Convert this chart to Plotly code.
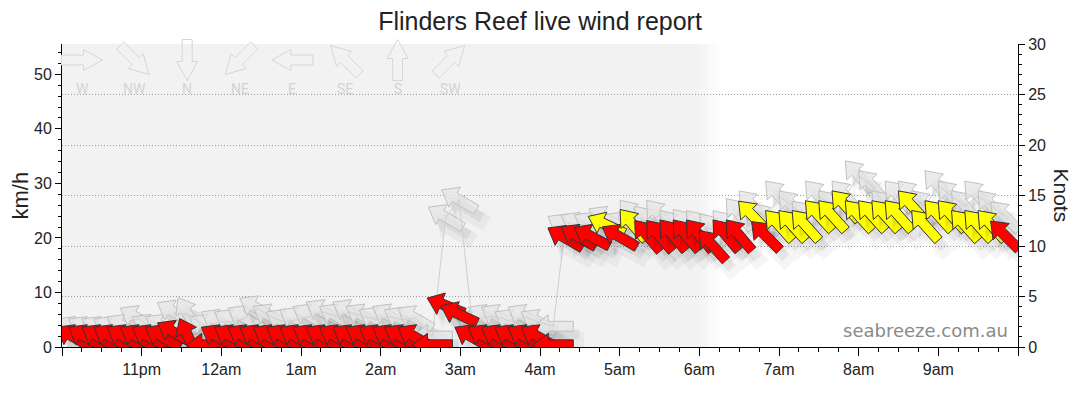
import numpy as np
import plotly.graph_objects as go
from datetime import datetime, timedelta

# ---------------- data ----------------
times = [
    "22:09", "22:18", "22:28", "22:37", "22:47", "22:57", "23:06", "23:16", "23:25", "23:35", "23:49",
    "23:58", "00:08", "00:18", "00:27", "00:37", "00:47", "00:57", "01:07", "01:17", "01:27", "01:37",
    "01:47", "01:57", "02:07", "02:16", "02:26",
    "02:39", "02:49", "02:59",
    "03:09", "03:19", "03:29", "03:39", "03:49", "03:59", "04:10",
    "04:19", "04:29", "04:39", "04:50", "05:00", "05:10", "05:21", "05:30", "05:40", "05:50", "06:00",
    "06:10", "06:20", "06:30", "06:40", "06:50",
    "07:00", "07:10", "07:20", "07:30", "07:40", "07:50", "08:00", "08:10", "08:20", "08:30", "08:40",
    "08:50", "09:00", "09:10", "09:20", "09:30", "09:40", "09:50",
]

speed_kmh = [
    1.8, 1.8, 1.8, 1.8, 1.8, 1.8, 1.8, 1.8, 2.6, 1.9, 0.4,
    1.8, 1.8, 1.8, 1.8, 1.8, 1.8, 1.8, 1.8, 1.8, 1.8, 1.8,
    1.8, 1.8, 1.8, 1.8, 1.8,
    0.4, 7.6, 6.0,
    1.8, 1.8, 1.8, 1.8, 1.8, 1.8, 0.4,
    20.0, 20.2, 20.2, 22.4, 20.2, 22.4, 20.4, 20.4, 20.5, 20.5, 20.5,
    18.6, 20.5, 20.5, 24.1, 20.4,
    22.3, 22.3, 22.3, 24.1, 24.1, 25.9, 24.1, 24.1, 24.1, 24.1, 25.9,
    22.3, 24.1, 24.1, 22.3, 22.3, 22.3, 20.5,
]

direction_deg = [
    120, 120, 120, 120, 120, 120, 120, 120, 120, 155, 90,
    120, 120, 120, 120, 120, 120, 120, 120, 120, 120, 120,
    120, 120, 120, 120, 120,
    90, 112, 115,
    120, 120, 120, 120, 120, 120, 90,
    120, 120, 118, 115, 120, 140, 140, 140, 140, 140, 140,
    138, 140, 140, 136, 135,
    138, 138, 138, 138, 138, 138, 138, 138, 138, 138, 138,
    138, 138, 138, 138, 138, 138, 135,
]

gust_kmh = [
    3.3, 3.3, 3.3, 3.3, 3.7, 5.3, 3.7, 3.7, 6.3, 5.9, 3.7,
    4.6, 4.6, 5.3, 7.1, 5.6, 4.6, 5.0, 5.6, 6.4, 5.6, 6.4,
    5.6, 5.0, 5.6, 5.0, 5.3,
    2.0, 23.8, 27.0,
    4.4, 5.5, 5.5, 4.6, 5.5, 4.6, 3.8,
    22.1, 22.4, 22.4, 23.5, 22.4, 24.1, 23.0, 24.1, 22.2, 22.4, 22.2,
    21.6, 22.2, 24.4, 25.9, 23.5,
    27.7, 25.9, 24.0, 27.7, 25.9, 27.7, 31.4, 29.6, 25.9, 27.7, 27.7,
    25.9, 29.6, 27.7, 25.9, 27.7, 25.9, 24.0,
]

gust_dir_deg = [
    120, 120, 120, 120, 120, 120, 120, 120, 120, 150, 120,
    120, 120, 120, 120, 120, 120, 120, 120, 120, 120, 120,
    120, 120, 120, 120, 120,
    90, 120, 120,
    120, 120, 120, 120, 120, 120, 90,
    120, 120, 120, 120, 120, 140, 140, 140, 140, 140, 140,
    140, 140, 140, 138, 138,
    138, 138, 138, 138, 138, 138, 138, 138, 138, 138, 138,
    138, 138, 138, 138, 138, 138, 135,
]

legend_labels = ["W", "NW", "N", "NE", "E", "SE", "S", "SW"]
legend_dirs = [270, 315, 0, 45, 90, 135, 180, 225]

hour_ticks = ["22:00", "23:00", "00:00", "01:00", "02:00", "03:00", "04:00", "05:00",
              "06:00", "07:00", "08:00", "09:00", "10:00"]
hour_labels = ["", "11pm", "12am", "1am", "2am", "3am", "4am", "5am",
               "6am", "7am", "8am", "9am", ""]

KMH_PER_KNOT = 1.852
KNOTS_MAX = 30
YELLOW_FROM_KMH = 21.5   # ~12 knots
NIGHT_END = "06:00"

# figure geometry (page body has an 8px margin)
FIG_W, FIG_H = 1064, 398
M_L, M_R, M_T, M_B = 54, 54, 36, 59
PLOT_W = FIG_W - M_L - M_R
PLOT_H = FIG_H - M_T - M_B


def to_dt(s):
    h, m = map(int, s.split(":"))
    day = 1 if h >= 12 else 2
    return datetime(2024, 1, day, h, m)


def fmt(dt):
    return dt.strftime("%Y-%m-%d %H:%M:%S")


def arrow_path(direction, length=40, head_len=15, head_half=11.5, shaft_half=5.0, dx=0.0, dy=0.0):
    """Block arrow (pixels, y up) pointing where the wind blows to."""
    b = np.radians(direction + 180)
    ux, uy = np.sin(b), np.cos(b)
    vx, vy = -uy, ux
    h = length / 2
    local = [(-h, -shaft_half), (h - head_len, -shaft_half), (h - head_len, -head_half), (h, 0),
             (h - head_len, head_half), (h - head_len, shaft_half), (-h, shaft_half)]
    pts = [(a * ux + c * vx + dx, a * uy + c * vy + dy) for a, c in local]
    return "M" + "L".join(f"{x:.2f},{y:.2f}" for x, y in pts) + "Z"


t_dt = [to_dt(s) for s in times]
x0 = to_dt("22:00")
x1 = to_dt("10:00")

shapes = []

# night shading with a soft edge
night_end = to_dt(NIGHT_END)
shapes.append(dict(type="rect", xref="x", yref="paper", x0=fmt(x0), x1=fmt(night_end), y0=0, y1=1,
                   fillcolor="#f2f2f2", line=dict(width=0), layer="below"))
steps = 6
for i in range(steps):
    a = night_end + timedelta(minutes=2.5 * i)
    b = night_end + timedelta(minutes=2.5 * (i + 1))
    c = int(242 + (255 - 242) * (i + 1) / (steps + 1))
    shapes.append(dict(type="rect", xref="x", yref="paper", x0=fmt(a), x1=fmt(b), y0=0, y1=1,
                       fillcolor=f"rgb({c},{c},{c})", line=dict(width=0), layer="below"))


def add_arrow(t, v, d, fill, line, layer, shadow=True):
    base = dict(type="path", xref="x", yref="y", xsizemode="pixel", ysizemode="pixel",
                xanchor=fmt(t), yanchor=v, layer=layer)
    if shadow:
        shapes.append(dict(base, path=arrow_path(d, length=44, head_half=14, shaft_half=8, dx=9, dy=-13),
                           fillcolor="rgba(0,0,0,0.04)", line=dict(width=0)))
        shapes.append(dict(base, path=arrow_path(d, dx=6, dy=-8),
                           fillcolor="rgba(0,0,0,0.06)", line=dict(width=0)))
    shapes.append(dict(base, path=arrow_path(d), fillcolor=fill, line=dict(color=line, width=1)))


# gust arrows (behind)
for t, g, gd in zip(t_dt, gust_kmh, gust_dir_deg):
    add_arrow(t, g, gd, "rgba(228,228,228,0.75)", "rgba(190,190,190,0.95)", "between")

# wind arrows
for t, v, d in zip(t_dt, speed_kmh, direction_deg):
    col = "#ffff00" if v >= YELLOW_FROM_KMH else "#ff0000"
    add_arrow(t, v, d, col, "#333333", "above")

# direction key at the top
key_x0 = 20 / PLOT_W
key_dx = 52.6 / PLOT_W
annotations = []
for i, (lab, d) in enumerate(zip(legend_labels, legend_dirs)):
    xa = key_x0 + i * key_dx
    shapes.append(dict(type="path", xref="paper", yref="paper", xsizemode="pixel", ysizemode="pixel",
                       xanchor=xa, yanchor=(PLOT_H - 16) / PLOT_H, layer="above",
                       path=arrow_path(d, length=41, head_len=19, head_half=10.5, shaft_half=5),
                       fillcolor="rgba(0,0,0,0)", line=dict(color="#d6d6d6", width=1)))
    annotations.append(dict(text=lab, xref="paper", yref="paper", x=xa, y=(PLOT_H - 45) / PLOT_H,
                            showarrow=False, xanchor="center", yanchor="middle",
                            font=dict(family="Roboto, Liberation Sans, Arial", size=14, color="#d4d4d4")))

annotations += [
    dict(text="km/h", xref="paper", yref="paper", x=-42 / PLOT_W, y=0.5, textangle=-90,
         showarrow=False, xanchor="center", yanchor="middle",
         font=dict(family="Liberation Sans, Arial", size=22, color="#222")),
    dict(text="Knots", xref="paper", yref="paper", x=1 + 43 / PLOT_W, y=0.5, textangle=90,
         showarrow=False, xanchor="center", yanchor="middle",
         font=dict(family="Liberation Sans, Arial", size=21, color="#222")),
    dict(text="seabreeze.com.au", xref="paper", yref="paper", x=1 - 8 / PLOT_W, y=17 / PLOT_H,
         showarrow=False, xanchor="right", yanchor="middle",
         font=dict(family="DejaVu Sans", size=18, color="#8a8a8a")),
]

fig = go.Figure()
fig.add_trace(go.Scatter(x=t_dt, y=gust_kmh, mode="lines", line=dict(color="#cfcfcf", width=1),
                         hoverinfo="skip", showlegend=False))
fig.add_trace(go.Scatter(x=t_dt, y=[g / KMH_PER_KNOT for g in gust_kmh], yaxis="y2", mode="lines",
                         line=dict(width=0), opacity=0, hoverinfo="skip", showlegend=False))

tick_font = dict(family="Liberation Sans, Arial", size=16, color="#222")
fig.update_layout(
    width=FIG_W, height=FIG_H,
    margin=dict(l=M_L, r=M_R, t=M_T, b=M_B),
    paper_bgcolor="white", plot_bgcolor="white",
    title=dict(text="Flinders Reef live wind report", x=0.5, xanchor="center",
               y=1 - 13 / FIG_H, yanchor="middle",
               font=dict(family="Liberation Sans, Arial", size=25, color="#222")),
    xaxis=dict(type="date", range=[fmt(x0), fmt(x1)], tickmode="array",
               tickvals=[fmt(to_dt(s)) for s in hour_ticks], ticktext=hour_labels,
               ticks="outside", ticklen=8, tickcolor="black", showline=True, linecolor="black",
               showgrid=False, zeroline=False, tickfont=tick_font,
               minor=dict(dtick=15 * 60 * 1000, tick0=fmt(x0), ticks="outside", ticklen=4,
                          tickcolor="black", showgrid=False)),
    yaxis=dict(range=[0, KNOTS_MAX * KMH_PER_KNOT], dtick=10, ticks="outside", ticklen=6,
               tickcolor="black", showline=True, linecolor="black", showgrid=False, zeroline=False,
               tickfont=tick_font,
               minor=dict(dtick=2, ticks="outside", ticklen=3, tickcolor="black", showgrid=False)),
    yaxis2=dict(range=[0, KNOTS_MAX], dtick=5, overlaying="y", side="right", ticks="outside",
                ticklen=6, tickcolor="black", showline=True, linecolor="black",
                showgrid=True, gridcolor="#9a9a9a", griddash="1px,2px", gridwidth=1, zeroline=False,
                tickfont=tick_font,
                minor=dict(dtick=1, ticks="outside", ticklen=3, tickcolor="black", showgrid=False)),
    shapes=shapes,
    annotations=annotations,
    showlegend=False,
)

fig.write_html("out.html")
